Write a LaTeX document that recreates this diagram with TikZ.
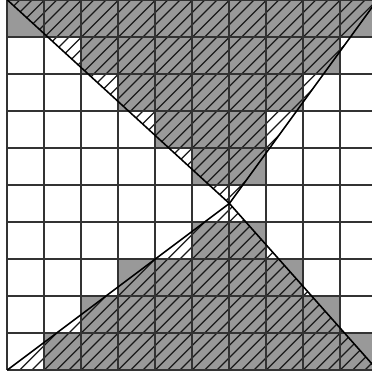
\documentclass[tikz,border=0pt]{standalone}
\begin{document}
\begin{tikzpicture}[x=1cm,y=1cm,
  cellfill/.style={fill=black!40},
  gridline/.style={line width=1.6pt, draw=black!80},
  hatchline/.style={line width=0.95pt, draw=black!90},
  xline/.style={line width=1.2pt, draw=black}]
\useasboundingbox (-0.2,-0.19) rectangle (9.854,10.0);
\coordinate (TL) at (0,10);
\coordinate (TR) at (10,10);
\coordinate (BL) at (0,0);
\coordinate (BR) at (10,0);
\coordinate (P) at (6,4.5);
% grey cells
\fill[cellfill] (0,9) rectangle (10,10) (2,8) rectangle (9,9) (3,7) rectangle (8,8)
  (4,6) rectangle (7,7) (5,5) rectangle (7,6);
\fill[cellfill] (1,0) rectangle (10,1) (2,1) rectangle (9,2) (3,2) rectangle (8,3)
  (5,3) rectangle (7,4);
% hatching of the two triangles
\begin{scope}
\clip (TL) -- (TR) -- (P) -- cycle (BL) -- (BR) -- (P) -- cycle;
\foreach \k in {-30,...,30} \draw[hatchline] (\k/3,0) -- ++(10,10);
\end{scope}
% grid
\draw[gridline] (0,0) grid (10,10);
% the X
\draw[xline] (TL) -- (P) -- (BR) (BL) -- (P) -- (TR);
\end{tikzpicture}
\end{document}
